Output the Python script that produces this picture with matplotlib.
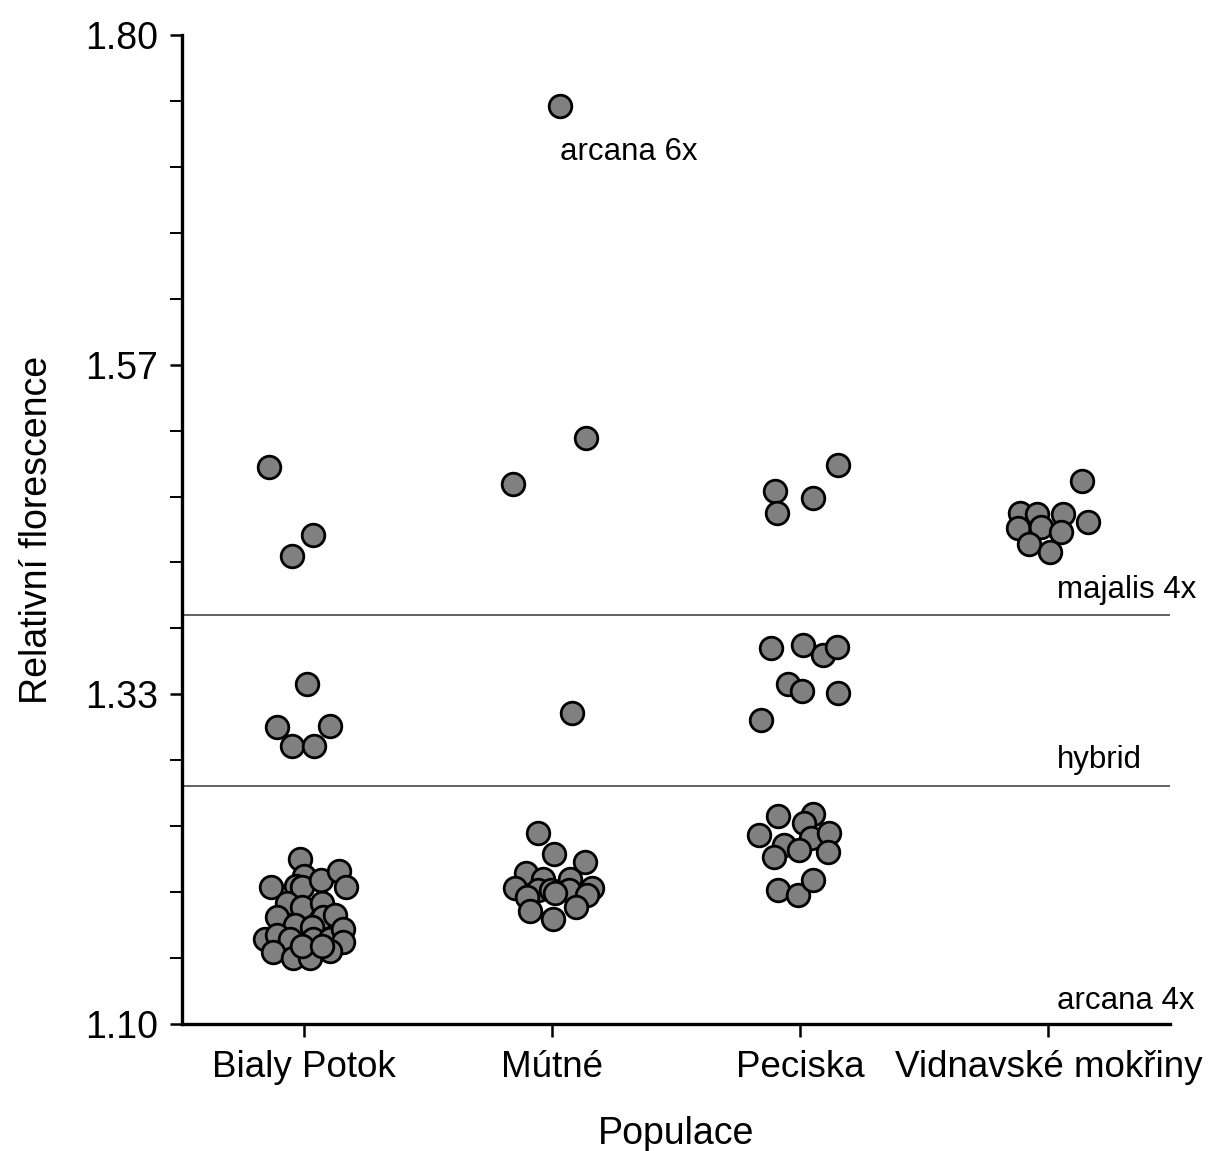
import numpy as np
import matplotlib
matplotlib.use("Agg")
from matplotlib import pyplot as plt
from matplotlib.ticker import FixedLocator

plt.rcParams['font.family'] = ['Liberation Sans', 'DejaVu Sans']

# populations on the x axis
populations = ['Bialy Potok', 'Mútné', 'Peciska', 'Vidnavské mokřiny']

# each point: horizontal jitter (category units) and relative fluorescence
bialy_dx = [-0.141, 0.036, -0.048, 0.012, -0.109, 0.105, -0.048, 0.040,
            -0.016, 0.000, -0.133, -0.032, -0.008, 0.068, 0.141, 0.169,
            -0.068, -0.008, 0.072, -0.109, 0.077, 0.125, -0.036, 0.032,
            -0.157, -0.109, -0.056, 0.036, 0.105, 0.157, 0.157, -0.125,
            -0.044, 0.024, 0.105, -0.008, 0.072]
bialy_y = [1.494, 1.446, 1.431, 1.341, 1.310, 1.311, 1.297, 1.297,
           1.217, 1.205, 1.197, 1.198, 1.197, 1.202, 1.208, 1.197,
           1.186, 1.183, 1.186, 1.176, 1.176, 1.177, 1.170, 1.169,
           1.160, 1.163, 1.160, 1.160, 1.160, 1.167, 1.158, 1.151,
           1.147, 1.147, 1.152, 1.155, 1.155]

mutne_dx = [0.032, 0.137, -0.157, 0.081,
            -0.056, 0.008, 0.133, -0.105, -0.036, 0.072, -0.149, -0.056,
            -0.004, 0.068, 0.161, -0.101, 0.012, 0.141, -0.089, 0.097, 0.004]
mutne_y = [1.750, 1.515, 1.482, 1.320,
           1.235, 1.220, 1.215, 1.207, 1.203, 1.203, 1.196, 1.195,
           1.195, 1.195, 1.196, 1.190, 1.193, 1.191, 1.180, 1.183, 1.174]

peciska_dx = [-0.101, -0.093, 0.052, 0.153,
              -0.117, 0.012, 0.093, 0.149, -0.048, 0.008, 0.153, -0.157,
              -0.089, 0.052, 0.016, -0.165, 0.044, 0.117, -0.064, -0.004,
              0.113, -0.105, -0.089, -0.008, 0.052]
peciska_y = [1.477, 1.462, 1.472, 1.496,
             1.366, 1.368, 1.361, 1.367, 1.341, 1.336, 1.334, 1.315,
             1.247, 1.249, 1.242, 1.234, 1.232, 1.235, 1.227, 1.223,
             1.222, 1.218, 1.195, 1.191, 1.202]

vidnava_dx = [0.137, -0.113, -0.044, 0.060, -0.121, -0.028, 0.052, 0.161,
              -0.077, 0.008]
vidnava_y = [1.484, 1.462, 1.461, 1.461, 1.451, 1.452, 1.448, 1.455,
             1.440, 1.434]

# ploidy boundaries
majalis_line = 1.3895
hybrid_line = 1.2685

groups = [(bialy_dx, bialy_y), (mutne_dx, mutne_y),
          (peciska_dx, peciska_y), (vidnava_dx, vidnava_y)]

fig = plt.figure(figsize=(12.1, 11.51), dpi=100)
ax = fig.add_axes([0.1504, 0.1103, 0.8166, 0.8593])

xmin, xmax = -0.49, 3.49
ax.plot([xmin, xmax], [majalis_line, majalis_line], color='#555555', lw=1.3, zorder=1)
ax.plot([xmin, xmax], [hybrid_line, hybrid_line], color='#555555', lw=1.3, zorder=1)

for i, (dx, y) in enumerate(groups):
    x = i + np.array(dx)
    ax.scatter(x, y, s=265, facecolor='#808080', edgecolor='black',
               linewidths=2.0, zorder=3)

ax.set_xlim(xmin, xmax)
ax.set_ylim(1.10, 1.80)
ax.set_xticks(range(len(populations)))
ax.set_xticklabels(populations, fontsize=26.5)
major = np.linspace(1.10, 1.80, 4)
ax.yaxis.set_major_locator(FixedLocator(major))
ax.yaxis.set_minor_locator(FixedLocator(np.linspace(1.10, 1.80, 16)))
ax.set_yticklabels(['%.2f' % v for v in major], fontsize=27)

for s in ['top', 'right']:
    ax.spines[s].set_visible(False)
for s in ['left', 'bottom']:
    ax.spines[s].set_linewidth(2.4)
ax.tick_params(axis='both', which='major', length=9, width=1.8)
ax.tick_params(axis='x', which='major', pad=10)
ax.tick_params(axis='y', which='major', pad=8)
ax.tick_params(axis='y', which='minor', length=9, width=1.4)

ax.set_xlabel('Populace', fontsize=27, labelpad=22)
ax.set_ylabel('Relativní florescence', fontsize=27, labelpad=22)

ax.text(1.032, 1.717, 'arcana 6x', fontsize=22.5, va='center', ha='left')
ax.text(3.035, 1.407, 'majalis 4x', fontsize=22.5, va='center', ha='left', clip_on=False)
ax.text(3.035, 1.287, 'hybrid', fontsize=22.5, va='center', ha='left', clip_on=False)
ax.text(3.035, 1.1163, 'arcana 4x', fontsize=22.5, va='center', ha='left', clip_on=False)

fig.savefig('out.png', dpi=100)
